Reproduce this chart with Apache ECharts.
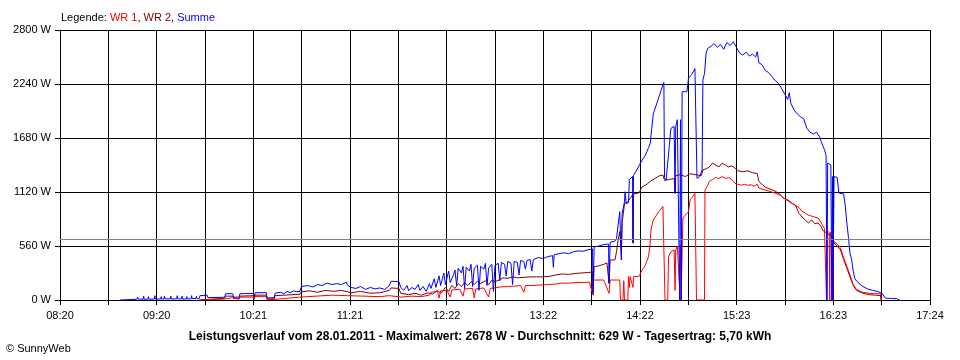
<!DOCTYPE html>
<html>
<head>
<meta charset="utf-8">
<script src="https://cdn.jsdelivr.net/npm/echarts@6/dist/echarts.min.js"></script>
<style>
html,body{margin:0;padding:0;background:#fff;}
#chart{width:960px;height:360px;}
</style>
</head>
<body>
<div id="chart"></div>
<script>
// time axis: minutes after 08:20, span 544 minutes (08:20 .. 17:24)
const axisSpan = 544;
const tickLabels = ['08:20','09:20','10:21','11:21','12:22','13:22','14:22','15:23','16:23','17:24'];
const yTicks = [0, 560, 1120, 1680, 2240, 2800];
const averageW = 629;
const title = 'Leistungsverlauf vom 28.01.2011 - Maximalwert: 2678 W - Durchschnitt: 629 W - Tagesertrag: 5,70 kWh';

// Summe (blue) [minute, W]
const summe = [[37.5,0],[38,8],[48,8],[48.5,30],[49,8],[52,8],[52.3,40],[52.6,8],[55,8],[55.3,35],[55.6,8],[59,10],[59.3,45],[59.6,10],[63,10],[63.3,35],[63.6,10],[65,10],[65.3,40],[65.6,12],[69,12],[69.3,40],[69.6,10],[73,12],[73.3,45],[73.6,12],[76,12],[76.3,40],[76.6,10],[79,10],[79.3,35],[79.6,12],[82,12],[82.3,45],[82.6,15],[85,15],[85.3,40],[85.6,15],[87,15],[87.5,45],[92,50],[92.5,25],[103,28],[103.5,65],[108,65],[108.5,30],[112,30],[112.5,65],[121,68],[121.5,30],[122,75],[129,76],[129.5,20],[134,25],[134.5,70],[138,80],[140,65],[142,90],[144,75],[146,95],[148,85],[150,90],
[151,140],[155,150],[158,135],[161,160],[164,150],[167,175],[170,160],[173,170],[176,160],[179,185],[180,150],[182,130],[185,120],[188,140],[191,110],[194,130],[197,115],[200,125],[203,110],[206,150],[207,195],[212,190],[213,130],[215,100],[217,150],[218,95],[220,130],[222,110],[224,160],[225,100],[227,140],[229,90],[231,170],[232,120],[234,220],[235,130],[237,250],[238,150],[240,280],[241,160],[243,300],[244,180],[246,260],[247,310],[248,150],[249,330],[251,280],[252,350],[253,120],[254,340],[256,300],[257,370],[258,140],[259,330],[261,360],[262,100],[263,350],[265,320],[266,380],[267,150],[268,330],[270,370],[271,90],[272,360],[274,380],[275,200],[276,390],[278,370],[279,250],[280,400],[282,380],[283,160],[284,400],[286,390],[287,260],[288,410],[290,400],[291,320],[292,410],[294,420],[295,300],[296,420],[299,440],[302,430],[305,450],[308,460],[308.5,340],[309,470],[312,480],[315,490],[318,480],[321,500],[324,510],[327,505],[330,520],[333,530],[333.3,70],[334,550],[337,560],[340,575],[343,580],[343.3,173],[344,600],[347,610],[348,640],[349,780],[350,916],[351,415],[351.5,900],[353,1020],[353.3,1123],[354,1000],[355.5,1010],[356,1250],[358,1280],[358.3,590],[358.6,1290],[360,1330],[362,1390],[364,1450],[366,1500],[368,1580],[369,1620],[370,1780],[371,1930],[372,1980],[374,2080],[376,2180],[377,2230],[377.6,2255],[378,1270],[379,1245],[380,1250],[381,1600],[382,1780],[384,1800],[384.6,1106],[385,1800],[386,1870],[387,1870],[387.5,0],[388,1870],[388.5,0],[389,2160],[392,2160],[393,2300],[395,2340],[397,2400],[398,2400],[398.3,1262],[400,1280],[401.5,1350],[402,2280],[403,2350],[404,2560],[405,2610],[407,2630],[409,2660],[411,2620],[413,2650],[415,2600],[417,2670],[419,2640],[421,2678],[423,2620],[425,2560],[427,2540],[429,2570],[431,2530],[433,2550],[435,2520],[436,2575],[437,2460],[439,2440],[441,2380],[443,2360],[445,2320],[447,2280],[449,2250],[451,2200],[453,2140],[455,2080],[456,2150],[457,2040],[459,1970],[461,1930],[463,1900],[465,1880],[467,1780],[469,1740],[471,1720],[473,1740],[475,1690],[476,1640],[478,1560],[479,1500],[479.6,0],[480,1420],[481,1420],[482,1400],[482.6,0],[483,1280],[483.3,0],[484,1280],[486,1270],[487,1110],[490,1100],[491,980],[492,800],[493,650],[494,480],[495,420],[496,300],[497,220],[499,180],[502,140],[505,115],[508,100],[511,90],[514,70],[516,20],[520,15],[523,15],[524,30],[525,0]];

// WR 2 (dark red) [minute, W]
const wr2 = [[87,0],[87.5,15],[103,18],[103.5,40],[108,40],[108.5,15],[112,15],[112.5,40],[121,45],[121.5,15],[122,50],[129,50],[129.5,10],[134,12],[134.5,45],[140,50],[145,55],[150,60],[151,85],[156,95],[161,80],[166,100],[171,90],[176,100],[180,85],[182,75],[188,90],[194,70],[200,75],[206,100],[207,125],[212,120],[213,70],[218,55],[222,70],[226,50],[230,75],[233,60],[236,100],[238,70],[241,130],[243,90],[245,150],[247,120],[249,170],[251,140],[253,180],[255,150],[257,190],[259,160],[261,195],[263,170],[266,200],[268,160],[270,205],[272,190],[275,210],[277,230],[280,225],[283,240],[286,230],[290,235],[294,240],[298,240],[302,240],[306,245],[310,260],[314,270],[318,265],[322,275],[326,280],[330,285],[333,290],[333.3,50],[334,345],[337,355],[340,370],[342,385],[343,385],[343.3,173],[344,415],[347,415],[348,500],[349,620],[350,709],[351,484],[351.5,800],[353,1000],[355,1020],[358,1090],[358.3,590],[358.6,1100],[362,1110],[364,1175],[367,1200],[369,1230],[372,1260],[375,1290],[377,1296],[378,1240],[381,1250],[384,1260],[384.6,1106],[385,1290],[388,1300],[391,1280],[394,1310],[397,1300],[398,1280],[401,1290],[402,1350],[404,1360],[406,1380],[408,1420],[410,1400],[412,1380],[414,1420],[416,1400],[418,1380],[420,1390],[422,1370],[424,1340],[427,1330],[430,1340],[433,1320],[436,1310],[437,1230],[439,1200],[441,1170],[444,1150],[447,1130],[450,1100],[452,1060],[455,1040],[458,1000],[460,980],[462,900],[464,860],[466,830],[468,800],[470,830],[472,790],[474,800],[476,760],[477,720],[480,690],[483,650],[484,590],[486,560],[488,520],[490,420],[492,330],[494,240],[496,150],[498,100],[502,70],[506,55],[510,50],[513,45],[513.5,0]];

// WR 1 (red) [minute, W]
const wr1 = [[87,0],[87.5,10],[103,10],[103.5,25],[108,25],[108.5,8],[112,8],[112.5,30],[121,30],[121.5,8],[122,35],[129,35],[129.5,5],[134,5],[134.5,25],[150,30],[151,45],[160,40],[170,50],[180,45],[181,35],[190,40],[200,35],[206,45],[213,30],[220,40],[226,35],[231,50],[232,80],[236,90],[237,20],[238,95],[242,100],[244,30],[245,105],[250,110],[252,40],[253,115],[258,120],[259,20],[260,115],[265,125],[268,30],[269,120],[272,125],[275,135],[280,140],[285,145],[288,150],[290,80],[291,150],[295,150],[300,155],[305,160],[310,165],[313,175],[318,175],[322,180],[327,182],[331,185],[332.6,90],[333,207],[340,207],[343.3,69],[344,207],[350,207],[350.5,0],[352,0],[352.5,200],[353,0],[355,0],[355.5,242],[356,130],[356.5,242],[358.3,130],[358.6,242],[362,245],[364,311],[366,360],[367,380],[368,450],[369,588],[369.5,726],[371,830],[373,880],[375,930],[377,970],[378,985],[378.3,0],[380,0],[380.5,450],[382,500],[384,520],[384.6,100],[385,520],[386,560],[387,570],[387.5,100],[388,570],[388.3,0],[389,0],[389.5,850],[391,880],[393,915],[394,1040],[396,1080],[397,1106],[397.8,1106],[398,0],[403,0],[403.3,1140],[405,1190],[406,1230],[408,1250],[410,1270],[412,1260],[414,1280],[416,1260],[418,1270],[420,1250],[422,1210],[424,1200],[426,1190],[428,1200],[430,1190],[432,1195],[434,1180],[436,1200],[437,1160],[439,1150],[441,1140],[443,1130],[445,1120],[447,1110],[450,1090],[452,1060],[454,1040],[457,1010],[460,980],[462,960],[464,920],[466,900],[468,880],[470,870],[472,860],[474,850],[476,800],[478,740],[479,720],[479.3,0],[479.6,720],[481,700],[481.3,0],[481.6,700],[483,620],[483.3,0],[483.6,610],[486,580],[488,540],[490,440],[492,350],[494,260],[496,160],[498,110],[502,80],[506,70],[510,65],[513,65],[513.5,0]];

const FONT = 'Liberation Sans';
const chart = echarts.init(document.getElementById('chart'), null, {renderer: 'canvas'});
const halfStep = axisSpan / 18;

function lineSeries(name, data, color, extra) {
  return Object.assign({
    name: name, type: 'line', data: data, showSymbol: false, symbol: 'none',
    lineStyle: {color: color, width: 1}, itemStyle: {color: color},
    animation: false, silent: true
  }, extra || {});
}

chart.setOption({
  animation: false,
  backgroundColor: '#fff',
  title: [
    {
      text: '{k|Legende: }{r|WR 1}{k|, }{d|WR 2}{k|, }{b|Summe}',
      left: 56, top: 7,
      textStyle: {
        fontFamily: FONT, fontSize: 11, fontWeight: 'normal',
        rich: {
          k: {color: '#000', fontFamily: FONT, fontSize: 11},
          r: {color: '#ff0000', fontFamily: FONT, fontSize: 11},
          d: {color: '#800000', fontFamily: FONT, fontSize: 11},
          b: {color: '#0000ff', fontFamily: FONT, fontSize: 11}
        }
      }
    },
    {
      text: title, left: 'center', top: 326,
      textStyle: {fontFamily: FONT, fontSize: 12, fontWeight: 'bold', color: '#000'}
    },
    {
      text: '© SunnyWeb', left: 1, top: 338,
      textStyle: {fontFamily: FONT, fontSize: 11, fontWeight: 'normal', color: '#000'}
    }
  ],
  grid: {left: 60, right: 30, top: 30, bottom: 60, containLabel: false},
  xAxis: {
    type: 'value', min: 0, max: axisSpan, interval: halfStep,
    axisLine: {show: true, lineStyle: {color: '#000', width: 1}},
    axisTick: {show: true, length: 5, lineStyle: {color: '#000', width: 1}},
    splitLine: {show: true, lineStyle: {color: '#000', width: 1}},
    axisLabel: {
      color: '#000', fontFamily: FONT, fontSize: 11, margin: 10,
      showMinLabel: true, showMaxLabel: true,
      formatter: function (v) {
        const i = Math.round(v / halfStep);
        return i % 2 === 0 ? (tickLabels[i / 2] || '') : '';
      }
    }
  },
  yAxis: {
    type: 'value', min: yTicks[0], max: yTicks[yTicks.length - 1], interval: yTicks[1] - yTicks[0],
    axisLine: {show: true, lineStyle: {color: '#000', width: 1}},
    axisTick: {show: true, length: 5, lineStyle: {color: '#000', width: 1}},
    splitLine: {show: true, lineStyle: {color: '#000', width: 1}},
    axisLabel: {
      color: '#000', fontFamily: FONT, fontSize: 11, margin: 9,
      formatter: function (v) { return v + ' W'; }
    }
  },
  series: [
    lineSeries('WR 2', wr2, '#800000', {
      markLine: {
        silent: true, symbol: 'none', animation: false,
        label: {show: false},
        lineStyle: {color: '#808080', width: 1, type: 'solid'},
        data: [{yAxis: averageW}]
      }
    }),
    lineSeries('WR 1', wr1, '#ff0000'),
    lineSeries('Summe', summe, '#0000ff')
  ]
});
</script>
</body>
</html>
